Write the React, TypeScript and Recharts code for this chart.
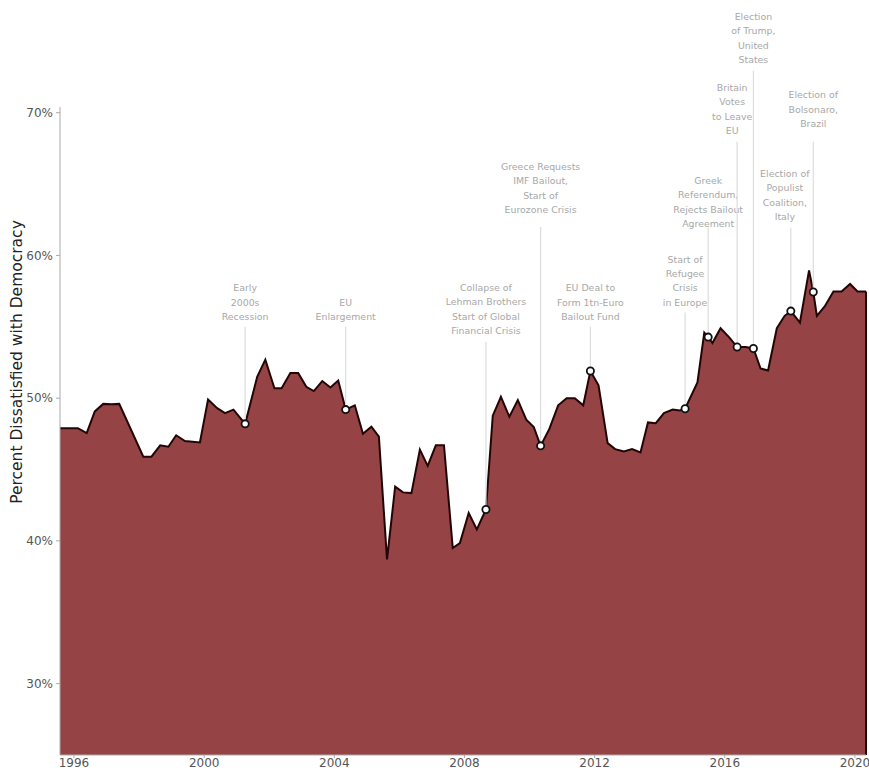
import React from 'react';
import { AreaChart, Area, XAxis, YAxis, ReferenceLine } from 'recharts';

// survey dates (decimal years) and share dissatisfied with democracy (%)
const surveyDates = [
  1995.57, 1996.12, 1996.39, 1996.64, 1996.9, 1997.15, 1997.39, 1998.13, 1998.38, 1998.65,
  1998.9, 1999.14, 1999.41, 1999.87, 2000.12, 2000.4, 2000.64, 2000.9, 2001.26, 2001.63,
  2001.88, 2002.16, 2002.38, 2002.65, 2002.89, 2003.14, 2003.37, 2003.63, 2003.88, 2004.12,
  2004.35, 2004.63, 2004.88, 2005.14, 2005.37, 2005.62, 2005.87, 2006.11, 2006.37, 2006.63,
  2006.87, 2007.12, 2007.37, 2007.64, 2007.86, 2008.13, 2008.38, 2008.66, 2008.87, 2009.12,
  2009.38, 2009.64, 2009.9, 2010.13, 2010.34, 2010.6, 2010.88, 2011.14, 2011.39, 2011.65,
  2011.87, 2012.12, 2012.4, 2012.63, 2012.9, 2013.15, 2013.41, 2013.64, 2013.88, 2014.13,
  2014.4, 2014.62, 2014.78, 2015.16, 2015.37, 2015.49, 2015.62, 2015.87, 2016.13, 2016.38,
  2016.64, 2016.88, 2017.1, 2017.33, 2017.6, 2017.84, 2018.03, 2018.31, 2018.59, 2018.72,
  2018.83, 2019.07, 2019.34, 2019.59, 2019.85, 2020.08, 2020.34,
];
const dissatisfied = [
  47.9, 47.9, 47.55, 49.07, 49.6, 49.57, 49.6, 45.9, 45.9, 46.7,
  46.6, 47.4, 47.0, 46.9, 49.9, 49.3, 48.95, 49.2, 48.2, 51.5,
  52.7, 50.7, 50.7, 51.76, 51.76, 50.8, 50.5, 51.2, 50.75, 51.24,
  49.2, 49.5, 47.5, 48.0, 47.3, 38.7, 43.8, 43.4, 43.35, 46.4,
  45.26, 46.7, 46.7, 39.5, 39.85, 41.95, 40.8, 42.2, 48.77, 50.1,
  48.7, 49.87, 48.5, 47.97, 46.66, 47.8, 49.5, 50.0, 50.0, 49.5,
  51.9, 50.9, 46.85, 46.43, 46.27, 46.43, 46.2, 48.3, 48.25, 48.95,
  49.2, 49.14, 49.26, 51.1, 54.6, 54.28, 53.86, 54.9, 54.28, 53.58,
  53.58, 53.48, 52.08, 51.94, 54.9, 55.77, 56.1, 55.3, 58.95, 57.44,
  55.77, 56.43, 57.48, 57.48, 58.0, 57.48, 57.48,
];

const eventDates = [2001.26, 2004.35, 2008.66, 2010.34, 2011.87, 2014.78, 2015.49, 2016.38, 2016.88, 2018.03, 2018.72];
const eventLabels = [
  ['Early', '2000s', 'Recession'],
  ['EU', 'Enlargement'],
  ['Collapse of', 'Lehman Brothers', 'Start of Global', 'Financial Crisis'],
  ['Greece Requests', 'IMF Bailout,', 'Start of', 'Eurozone Crisis'],
  ['EU Deal to', 'Form 1tn-Euro', 'Bailout Fund'],
  ['Start of', 'Refugee', 'Crisis', 'in Europe'],
  ['Greek', 'Referendum,', 'Rejects Bailout', 'Agreement'],
  ['Britain', 'Votes', 'to Leave', 'EU'],
  ['Election', 'of Trump,', 'United', 'States'],
  ['Election of', 'Populist', 'Coalition,', 'Italy'],
  ['Election of', 'Bolsonaro,', 'Brazil'],
];

const xTicks = [1996, 2000, 2004, 2008, 2012, 2016, 2020];
const yTicks = [30, 40, 50, 60, 70];

// layout of the annotation leaders (top of leader in axis units, text gap / shift in px)
const leaderTops = [55.0, 55.0, 53.95, 62.0, 55.0, 56.0, 61.94, 67.97, 72.94, 61.94, 67.97];
const labelGaps = [10, 10, 11, 17, 10, 10, 4, 11, 11, 11, 18];
const labelShift = [0, 0, 0, 0, 0, 0, 0, -5, 0, -6, 0];

const FONT = '"DejaVu Sans", Verdana, sans-serif';
const FILL = '#964345';
const EDGE = '#220606';

const data = surveyDates.map((d, i) => ({
  date: d,
  value: dissatisfied[i],
  event: eventDates.includes(d),
}));

const valueAt = (d: number) => dissatisfied[surveyDates.indexOf(d)];

const eventLabel = (lines: string[], gap: number, shift: number) => (props: any) => {
  const vb = props.viewBox;
  if (!vb) return null;
  const cx = vb.x + shift;
  const bottom = vb.y - gap;
  return (
    <text textAnchor="middle" fill="#a8a8a8" fontSize={9.4} fontFamily={FONT}>
      {lines.map((l, i) => (
        <tspan key={i} x={cx} y={bottom - (lines.length - 1 - i) * 14.4} dy="0.35em">
          {l}
        </tspan>
      ))}
    </text>
  );
};

const yLabel = (props: any) => {
  const vb = props.viewBox || { y: 107, height: 648 };
  const x = 17;
  const y = vb.y + 255;
  return (
    <text
      x={x}
      y={y}
      transform={`rotate(-90 ${x} ${y})`}
      textAnchor="middle"
      dominantBaseline="central"
      fill="#222"
      fontSize={15.5}
      fontFamily={FONT}
    >
      Percent Dissatisfied with Democracy
    </text>
  );
};

const renderDot = (props: any) => {
  const { cx, cy, payload, index } = props;
  if (!payload || !payload.event) return <g key={`d-${index}`} />;
  return <circle key={`d-${index}`} cx={cx} cy={cy} r={3.6} fill="#fff" stroke="#111" strokeWidth={1.8} />;
};

export default function App() {
  const lastDate = surveyDates[surveyDates.length - 1];
  const lastValue = dissatisfied[dissatisfied.length - 1];

  return (
    <div style={{ position: 'absolute', left: 0, top: 0, width: 869, height: 771, background: '#fff' }}>
      <AreaChart width={869} height={771} data={data} margin={{ top: 107, right: 3, bottom: 0, left: 0 }}>
        <XAxis
          type="number"
          dataKey="date"
          domain={['dataMin', 'dataMax']}
          ticks={xTicks}
          interval={0}
          height={16}
          tickSize={3}
          tickMargin={0}
          stroke="#aaa"
          tick={{ fill: '#555', fontSize: 12, fontFamily: FONT }}
        />
        <YAxis
          type="number"
          domain={[25, 70.4]}
          ticks={yTicks}
          interval={0}
          width={60}
          tickSize={4}
          tickMargin={3}
          stroke="#aaa"
          tickFormatter={(v: number) => `${v}%`}
          tick={{ fill: '#555', fontSize: 12, fontFamily: FONT }}
          label={yLabel}
        />
        {eventDates.map((d, i) => (
          <ReferenceLine
            key={`ev-${i}`}
            segment={[
              { x: d, y: valueAt(d) },
              { x: d, y: leaderTops[i] },
            ]}
            stroke="#dcdcdc"
            strokeWidth={1.2}
            ifOverflow="visible"
            label={eventLabel(eventLabels[i], labelGaps[i], labelShift[i])}
          />
        ))}
        <Area
          type="linear"
          dataKey="value"
          stroke={EDGE}
          strokeWidth={2}
          fill={FILL}
          fillOpacity={1}
          dot={renderDot}
          activeDot={false}
          isAnimationActive={false}
        />
        <ReferenceLine
          segment={[
            { x: lastDate, y: 25 },
            { x: lastDate, y: lastValue },
          ]}
          stroke={EDGE}
          strokeWidth={2}
          ifOverflow="visible"
        />
      </AreaChart>
    </div>
  );
}
